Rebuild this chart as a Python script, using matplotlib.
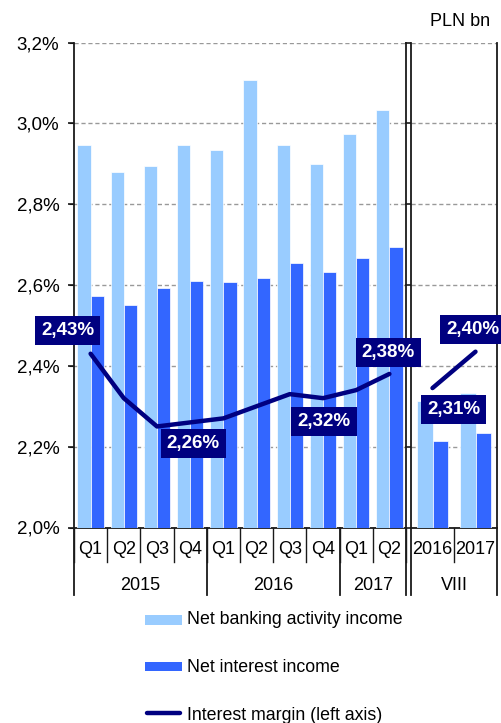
import matplotlib
matplotlib.use("Agg")
import matplotlib.pyplot as plt
import matplotlib.patches as patches
from matplotlib.lines import Line2D
from matplotlib.ticker import FuncFormatter
import numpy as np

plt.rcParams['font.family'] = ['Liberation Sans', 'DejaVu Sans']

# quarterly data (PLN bn, margin in %)
quarters = ["Q1", "Q2", "Q3", "Q4", "Q1", "Q2", "Q3", "Q4", "Q1", "Q2"]
years = ["2015", "2016", "2017"]
year_spans = [(0, 3), (4, 7), (8, 9)]
nbai_q = [14.2, 13.2, 13.4, 14.2, 14.0, 16.6, 14.2, 13.5, 14.6, 15.5]
nii_q = [8.6, 8.25, 8.9, 9.15, 9.1, 9.25, 9.8, 9.5, 10.0, 10.4]
margin_q = [2.43, 2.32, 2.25, 2.26, 2.27, 2.30, 2.33, 2.32, 2.34, 2.38]
labelled_q = [0, 3, 7, 9]

# monthly data (August)
months = ["2016", "2017"]
month_group = "VIII"
nbai_m = [4.7, 5.0]
nii_m = [3.2, 3.5]
margin_m = [2.31, 2.40]

series_names = ["Net banking activity income", "Net interest income",
                "Interest margin (left axis)"]

LIGHT = "#99CCFF"
DARK = "#3366FF"
NAVY = "#000080"
GRID = "#999999"
AX = "#1a1a1a"
W, H = 502, 723
FS = 13


def fmt_pct(v):
    return f"{v:.2f}%".replace(".", ",")


fig = plt.figure(figsize=(W / 100, H / 100), dpi=100)
fig.patch.set_facecolor("white")

bottom = 1 - 527.5 / H
height = 485 / H
axL = fig.add_axes([74 / W, bottom, 332 / W, height])
axR = fig.add_axes([411 / W, bottom, 86 / W, height])


def bar_panel(ax, light, dark, width):
    x = np.arange(len(light))
    ax.bar(x - width / 2, light, width, color=LIGHT, edgecolor="white", linewidth=0.5, zorder=3)
    ax.bar(x + width / 2, dark, width, color=DARK, edgecolor="white", linewidth=0.5, zorder=3)
    ax.set_xlim(-0.5, len(light) - 0.5)
    ax.set_ylim(0, 18)
    ax.set_yticks(np.arange(0, 19, 3))
    ax.set_axisbelow(True)
    ax.yaxis.grid(True, color=GRID, linestyle=(0, (3, 2)), linewidth=1)
    ax.set_xticks([])
    ax.spines["top"].set_visible(False)
    for s in ["left", "right", "bottom"]:
        ax.spines[s].set_color(AX)
        ax.spines[s].set_linewidth(1.3)
    ax.patch.set_visible(False)
    return x


def separators(ax, short_xs, long_xs):
    tr = ax.get_xaxis_transform()
    for xs in short_xs:
        ax.plot([xs, xs], [0, -0.071], transform=tr, color=AX, lw=1.0, clip_on=False)
    for xs in long_xs:
        ax.plot([xs, xs], [0, -0.139], transform=tr, color=AX, lw=1.3, clip_on=False)


# left panel
xq = bar_panel(axL, nbai_q, nii_q, 0.4)
axL.tick_params(axis="y", left=False, right=False, labelleft=False, labelright=False)
separators(axL, np.arange(-0.5, 10, 1),
           [-0.5] + [e + 0.5 for _, e in year_spans])
trL = axL.get_xaxis_transform()
for i, q in enumerate(quarters):
    axL.text(i, -0.046, q, transform=trL, ha="center", va="center", fontsize=FS)
for yr, (s, e) in zip(years, year_spans):
    axL.text((s + e) / 2, -0.1186, yr, transform=trL, ha="center", va="center", fontsize=FS)

pL = axL.twinx()
pL.yaxis.tick_left()
pL.set_ylim(2.0, 3.2)
pL.set_yticks(np.arange(2.0, 3.21, 0.2))
pL.yaxis.set_major_formatter(FuncFormatter(lambda v, p: f"{v:.1f}%".replace(".", ",")))
pL.tick_params(axis="y", direction="out", length=4.5, width=1.2, color=AX,
               labelsize=13.5, pad=6)
for s in pL.spines.values():
    s.set_visible(False)
pL.patch.set_visible(False)
pL.plot(xq, margin_q, color=NAVY, lw=3.2, solid_capstyle="round",
        solid_joinstyle="round", zorder=4)

label_box = dict(boxstyle="square,pad=0.32", fc=NAVY, ec="none")
offsets_q = {0: (-23, 23), 3: (3, -21), 7: (1, -23), 9: (-1, 21)}
for i in labelled_q:
    pL.annotate(fmt_pct(margin_q[i]), xy=(i, margin_q[i]), xytext=offsets_q[i],
                textcoords="offset pixels", ha="center", va="center",
                color="white", fontweight="bold", fontsize=13.5,
                bbox=label_box, annotation_clip=False, zorder=10)

# right panel
xm = bar_panel(axR, nbai_m, nii_m, 0.35)
axR.yaxis.tick_right()
axR.tick_params(axis="y", direction="out", length=4, width=1.2, color=AX,
                labelright=False, labelleft=False, left=False)
separators(axR, [0.5], [-0.5, 1.5])
trR = axR.get_xaxis_transform()
for i, m in enumerate(months):
    axR.text(i, -0.046, m, transform=trR, ha="center", va="center", fontsize=FS)
axR.text(0.5, -0.1186, month_group, transform=trR, ha="center", va="center", fontsize=FS)

pR = axR.twinx()
pR.set_ylim(1.965, 3.165)
pR.axis("off")
pR.plot(xm, margin_m, color=NAVY, lw=3.2, solid_capstyle="round", zorder=4)
offsets_m = [(21, -21), (-3, 22)]
for i, v in enumerate(margin_m):
    pR.annotate(fmt_pct(v), xy=(i, v), xytext=offsets_m[i],
                textcoords="offset pixels", ha="center", va="center",
                color="white", fontweight="bold", fontsize=13.5,
                bbox=label_box, annotation_clip=False, zorder=10)

# label boxes must sit above the neighbouring panel
axR.set_zorder(1)
pR.set_zorder(2)
axL.set_zorder(3)
pL.set_zorder(4)

fig.text(460 / W, 1 - 21 / H, "PLN bn", ha="center", va="center", fontsize=FS)

# legend drawn by hand
lx, lw_ = 145 / W, 37 / W
fig.patches.append(patches.Rectangle((lx, 1 - 625 / H), lw_, 10 / H, transform=fig.transFigure,
                                     facecolor=LIGHT, edgecolor="none"))
fig.patches.append(patches.Rectangle((lx, 1 - 671 / H), lw_, 9 / H, transform=fig.transFigure,
                                     facecolor=DARK, edgecolor="none"))
fig.lines.append(Line2D([lx + 0.004, lx + lw_ - 0.004], [1 - 713 / H, 1 - 713 / H],
                        transform=fig.transFigure, color=NAVY, lw=3.2, solid_capstyle="round"))
for name, yc in zip(series_names, [620, 667, 715]):
    fig.text(187 / W, 1 - yc / H, name, ha="left", va="center", fontsize=12.8)

fig.savefig("out.png", dpi=100)
